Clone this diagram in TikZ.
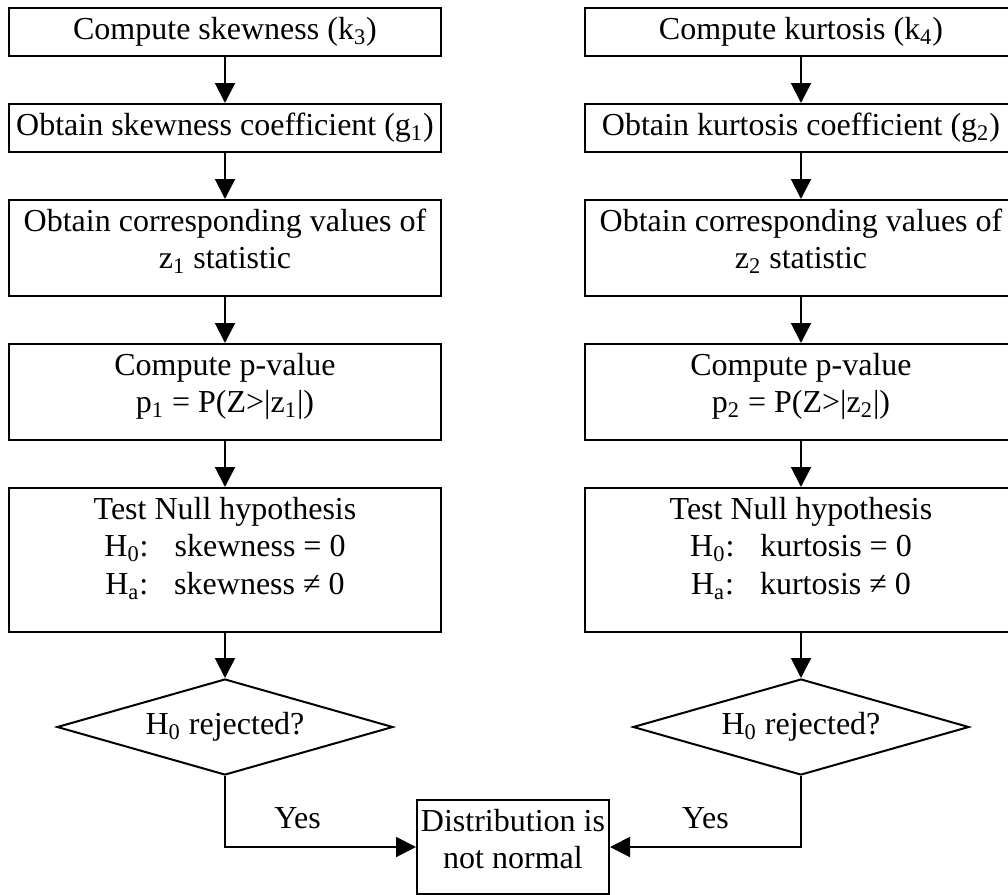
\documentclass[tikz,border=0pt]{standalone}
\usepackage{fontspec}
\setmainfont{Liberation Serif}
\usetikzlibrary{shapes.geometric,arrows.meta}

\tikzset{
    stepbox/.style={draw, line width=1pt, inner sep=0pt, minimum width=216pt, align=center, anchor=north, text height=15.5pt, text depth=8.5pt},
    twolines/.style={text height=34.25pt, text depth=13.75pt},
    threelines/.style={text height=53pt, text depth=19pt},
    testbox/.style={draw, line width=1pt, shape=diamond, inner sep=0pt, minimum width=168pt, minimum height=48pt, shape aspect=3.5},
    flow/.style={line width=1pt, -{Triangle[width=10pt,length=10pt]}},
    yeslabel/.style={inner sep=0pt, above=8.5pt}
}

\begin{document}
\begin{tikzpicture}[x=0.5pt, y=-0.5pt, font=\fontsize{16}{18.75}\selectfont]
    \useasboundingbox (0,0) rectangle (1008,895);
    \clip (0,0) rectangle (1008,895);

    \node[stepbox] (sk1) at (225,7) {Compute skewness (k\textsubscript{3})};
    \node[stepbox] (sk2) at (225,103) {Obtain skewness coefficient (g\textsubscript{1})};
    \node[stepbox, twolines] (sk3) at (225,199) {Obtain corresponding values of\\ z\textsubscript{1} statistic};
    \node[stepbox, twolines] (sk4) at (225,343) {Compute p-value\\ p\textsubscript{1} = P(Z>|z\textsubscript{1}|)};
    \node[stepbox, threelines] (sk5) at (225,487) {Test Null hypothesis\\ H\textsubscript{0}:\hspace{13pt}skewness = 0\\ H\textsubscript{a}:\hspace{13pt}skewness ≠ 0};
    \node[testbox] (dl) at (225,727) {H\textsubscript{0} rejected?};

    \node[stepbox] (ku1) at (801,7) {Compute kurtosis (k\textsubscript{4})};
    \node[stepbox] (ku2) at (801,103) {Obtain kurtosis coefficient (g\textsubscript{2})};
    \node[stepbox, twolines] (ku3) at (801,199) {Obtain corresponding values of\\ z\textsubscript{2} statistic};
    \node[stepbox, twolines] (ku4) at (801,343) {Compute p-value\\ p\textsubscript{2} = P(Z>|z\textsubscript{2}|)};
    \node[stepbox, threelines] (ku5) at (801,487) {Test Null hypothesis\\ H\textsubscript{0}:\hspace{13pt}kurtosis = 0\\ H\textsubscript{a}:\hspace{13pt}kurtosis ≠ 0};
    \node[testbox] (dr) at (801,727) {H\textsubscript{0} rejected?};

    \node[stepbox, twolines, text depth=12.75pt, minimum width=96pt] (res) at (513,799) {Distribution is\\ not normal};

    \draw[flow] (sk1) -- (sk2);
    \draw[flow] (sk2) -- (sk3);
    \draw[flow] (sk3) -- (sk4);
    \draw[flow] (sk4) -- (sk5);
    \draw[flow] (sk5) -- (dl);
    \draw[flow] (ku1) -- (ku2);
    \draw[flow] (ku2) -- (ku3);
    \draw[flow] (ku3) -- (ku4);
    \draw[flow] (ku4) -- (ku5);
    \draw[flow] (ku5) -- (dr);

    \draw[flow] (dl.south) |- node[yeslabel, pos=0.69] {Yes} (res.west);
    \draw[flow] (dr.south) |- node[yeslabel, pos=0.75] {Yes} (res.east);
\end{tikzpicture}
\end{document}
